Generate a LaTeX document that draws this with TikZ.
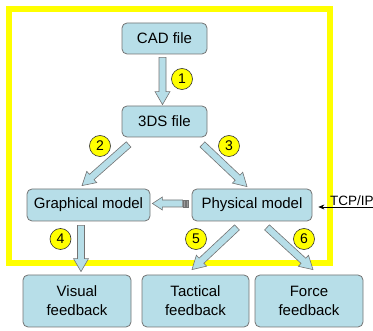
\documentclass[tikz,border=0pt]{standalone}
\usepackage{fontspec}
\setmainfont{Liberation Sans}
\usetikzlibrary{calc,arrows.meta}
\definecolor{boxfill}{RGB}{183,222,232}
\definecolor{boxline}{RGB}{115,115,115}
\definecolor{frameyellow}{RGB}{255,255,0}
\newcommand\blockarrow[5]{%
  \path #1 coordinate (bas) #2 coordinate (bae);
  \path ($(bae)!#5!(bas)$) coordinate (bah);
  \draw[barrow] ($(bas)!#3!90:(bae)$) -- ($(bah)!#3!90:(bae)$) -- ($(bah)!#4!90:(bae)$) -- (bae)
    -- ($(bah)!#4!-90:(bae)$) -- ($(bah)!#3!-90:(bae)$) -- ($(bas)!#3!-90:(bae)$) -- cycle;
}
\tikzset{
  box/.style={draw=boxline, line width=0.8pt, fill=boxfill, rounded corners=5pt,
    minimum width=#1, inner sep=0pt, align=center, font=\fontsize{15}{19}\selectfont},
  barrow/.style={draw=boxline, line width=0.6pt, fill=boxfill, line join=miter},
  num/.style={circle, draw=black!80, line width=0.6pt, fill=frameyellow, minimum size=21pt,
    inner sep=0pt, font=\fontsize{14}{14}\selectfont},
}
\begin{document}
\begin{tikzpicture}[x=1pt,y=-1pt]
\useasboundingbox (0,0) rectangle (373,331);
\draw[frameyellow, line width=6pt] (9,9) rectangle (330,263);

\node[box=85pt, minimum height=31pt] (cad) at (164.5,38.5) {CAD file};
\node[box=85pt, minimum height=31pt] (ds) at (164.5,121.5) {3DS file};
\node[box=123pt, minimum height=32pt] (graph) at (88.5,205) {Graphical model};
\node[box=120pt, minimum height=32pt] (phys) at (252,205) {Physical model};
\node[box=108pt, minimum height=52pt] (vis) at (77,301) {Visual\\feedback};
\node[box=107pt, minimum height=52pt] (tac) at (195.5,301) {Tactical\\feedback};
\node[box=108pt, minimum height=52pt] (force) at (309,301) {Force\\feedback};

\blockarrow{($(cad.south)+(-2,3)$)}{($(ds.north)+(-2,-1)$)}{3.5pt}{7.5pt}{13pt}
\blockarrow{($(ds.south west)+(7,7)$)}{($(graph.north)+(-6.5,-3)$)}{3.5pt}{7.5pt}{13pt}
\blockarrow{($(ds.south east)+(-5,7)$)}{($(phys.north)+(-5,-2)$)}{3.5pt}{7.5pt}{13pt}
\blockarrow{($(graph.south)+(-7.5,4)$)}{($(vis.north)+(4,-3)$)}{3.5pt}{7.5pt}{13pt}
\blockarrow{($(phys.south)+(-15,6)$)}{($(tac.north)+(-3.5,-5)$)}{3.5pt}{7.5pt}{13pt}
\blockarrow{($(phys.south)+(15,6)$)}{($(force.north)+(4,-5)$)}{3.5pt}{7.5pt}{13pt}

\blockarrow{($(phys.west)+(-9,-1.5)$)}{($(graph.east)+(2,-1.5)$)}{3.5pt}{6.5pt}{10pt}
\draw[draw=boxline, fill=boxline!70, line width=0.5pt] ($(phys.west)+(-8,-5)$) rectangle ($(phys.west)+(-6,2)$);
\draw[draw=boxline, fill=boxline!70, line width=0.5pt] ($(phys.west)+(-5,-5)$) rectangle ($(phys.west)+(-3,2)$);

\node[num] (n1) at (182,79) {1};
\node[num] (n2) at (100,146) {2};
\node[num] (n3) at (229,146) {3};
\node[num] (n4) at (60.5,239) {4};
\node[num] (n5) at (196,239) {5};
\node[num] (n6) at (304,239) {6};

\node[anchor=south west, inner sep=0pt, font=\fontsize{13.5}{15}\selectfont] (tcp) at (330,206) {TCP/IP};
\coordinate (tcpend) at (373,207);
\draw[-{Stealth[length=6pt,width=5pt]}, line width=0.6pt] (tcpend) -- ($(phys.east)+(6,2)$);
\end{tikzpicture}
\end{document}
